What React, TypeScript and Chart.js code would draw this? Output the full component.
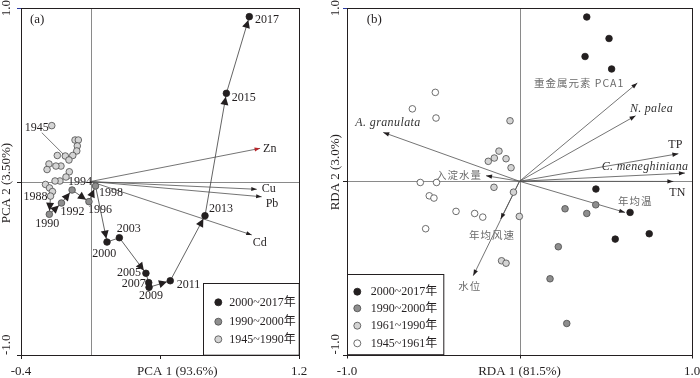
import React, { useEffect, useRef } from 'react';
import { Chart, registerables } from 'chart.js';

Chart.register(...registerables);

const SERIF = '"Liberation Serif", "Times New Roman", "Noto Sans CJK SC", serif';
const CJK = '"Noto Sans CJK SC", "Noto Sans", sans-serif';
const INK = '#231f20';
const DARK = '#231f20';
const MID = '#8e8e8e';
const LIGHT = '#d4d4d4';
const WHITE = '#ffffff';
const EDGE = '#4a4a4a';
const LINE = '#505050';

// ---------------- Panel (a): PCA of heavy metals ----------------
const pcaXTicks = [-0.4, 0.4, 1.2];
const pcaXTickLabels = ['-0.4', '', '1.2'];
const pcaYTicks = [1, 0, -1];
const pcaYTickLabels = ['1.0', '', '-1.0'];

// 1945~1990 (first = 1945, last = 1988)
const pcaLightX = [-0.223, -0.089, -0.070, -0.076, -0.079, -0.102, -0.145, -0.191, -0.124, -0.170, -0.199, -0.239, -0.250, -0.122, -0.141, -0.176, -0.204, -0.259, -0.236, -0.219, -0.230];
const pcaLightY = [0.322, 0.239, 0.239, 0.205, 0.176, 0.150, 0.147, 0.150, 0.124, 0.089, 0.089, 0.101, 0.069, 0.056, 0.026, 0.003, 0.003, -0.017, -0.037, -0.058, -0.084];
const pcaLightFirstYear = '1945';
const pcaLightLastYear = '1988';

// 1990~2000
const pcaMidYears = ['1990', '1992', '1994', '1996', '1998'];
const pcaMidX = [-0.237, -0.167, -0.106, -0.009, 0.029];
const pcaMidY = [-0.189, -0.124, -0.049, -0.116, -0.026];

// 2000~2017
const pcaDarkYears = ['2000', '2003', '2005', '2007', '2009', '2011', '2013', '2015', '2017'];
const pcaDarkX = [0.095, 0.166, 0.319, 0.335, 0.337, 0.459, 0.659, 0.782, 0.914];
const pcaDarkY = [-0.349, -0.324, -0.529, -0.583, -0.610, -0.572, -0.197, 0.508, 0.950];

const pcaVarNames = ['Zn', 'Cu', 'Pb', 'Cd'];
const pcaVarX = [0.976, 0.957, 0.985, 0.928];
const pcaVarY = [0.191, -0.045, -0.088, -0.308];

const pcaLegend = ['2000~2017年', '1990~2000年', '1945~1990年'];

// ---------------- Panel (b): RDA ----------------
const rdaXTicks = [-1, 0, 1];
const rdaXTickLabels = ['-1.0', '', '1.0'];
const rdaYTicks = [1, 0, -1];
const rdaYTickLabels = ['1.0', '', '-1.0'];

const rdaDarkX = [0.390, 0.519, 0.380, 0.534, 0.443, 0.641, 0.752, 0.555];
const rdaDarkY = [0.948, 0.824, 0.720, 0.648, -0.045, -0.180, -0.303, -0.334];
const rdaMidX = [0.442, 0.264, 0.390, 0.225, 0.177, 0.274];
const rdaMidY = [-0.136, -0.159, -0.186, -0.378, -0.563, -0.821];
const rdaLightX = [-0.055, -0.119, -0.146, -0.181, -0.078, -0.049, -0.148, -0.035, -0.001, -0.104, -0.078];
const rdaLightY = [0.349, 0.174, 0.134, 0.115, 0.130, 0.078, -0.035, -0.063, -0.203, -0.459, -0.473];
const rdaWhiteX = [-0.488, -0.621, -0.484, -0.575, -0.481, -0.523, -0.496, -0.368, -0.260, -0.213, -0.544];
const rdaWhiteY = [0.513, 0.418, 0.365, -0.007, -0.007, -0.084, -0.097, -0.174, -0.186, -0.207, -0.274];

const rdaVarNames = ['A. granulata', '入淀水量', '重金属元素 PCA1', 'N. palea', 'TP', 'C. meneghiniana', 'TN', '年均温', '年均风速', '水位'];
const rdaVarX = [-0.790, -0.194, 0.683, 0.673, 0.921, 0.959, 0.892, 0.612, -0.109, -0.268];
const rdaVarY = [0.282, 0.032, 0.567, 0.378, 0.159, 0.047, -0.001, -0.180, -0.218, -0.545];

const rdaLegend = ['2000~2017年', '1990~2000年', '1961~1990年', '1945~1961年'];

// ---------------- label placement (style) ----------------
const yearPlace: Record<string, [number, number, CanvasTextAlign]> = {
  '1945': [-3, 2, 'right'],
  '1988': [-3, 1, 'right'],
  '1990': [-2, 9.5, 'center'],
  '1992': [-1, 9, 'left'],
  '1994': [-4, -8.5, 'left'],
  '1996': [-1, 8.5, 'left'],
  '1998': [3.5, 6.5, 'left'],
  '2000': [-2.7, 11.3, 'center'],
  '2003': [-2.6, -8.4, 'left'],
  '2005': [-5, 0, 'right'],
  '2007': [-3, 1.6, 'right'],
  '2009': [2, 9, 'center'],
  '2011': [6.4, 4.3, 'left'],
  '2013': [4, -6.4, 'left'],
  '2015': [5.4, 4.4, 'left'],
  '2017': [5.7, 3.3, 'left'],
};
const pcaVarPlace: [number, number, CanvasTextAlign][] = [[3, 0, 'left'], [5, 0, 'left'], [4, 7, 'left'], [1, 8.3, 'left']];
const pcaHeadColors = ['#b8252a', INK, INK, INK];

type VarStyle = [number, number, CanvasTextAlign, string, string, number];
const ITAL = 'italic 12px ' + SERIF;
const ROM = '12px ' + SERIF;
const CJKF = '10.5px ' + CJK;
const rdaVarPlace: VarStyle[] = [
  [-28, -9.4, 'left', ITAL, '#333', 0.4],
  [-4, -1, 'right', CJKF, '#6a6a6a', 1],
  [-13, 0, 'right', CJKF, '#6a6a6a', 1],
  [-5.7, -7.3, 'left', ITAL, '#333', 0.3],
  [-10, -9, 'left', ROM, INK, 0],
  [3.3, -6.6, 'right', ITAL, '#333', 0.3],
  [-4, 11, 'left', ROM, INK, 0],
  [-7, -11, 'left', CJKF, '#6a6a6a', 1],
  [-31.7, 15.7, 'left', CJKF, '#6a6a6a', 1],
  [-15, 10.7, 'left', CJKF, '#6a6a6a', 1],
];

// ---------------- helpers ----------------
const pts = (xs: number[], ys: number[]) => xs.map((x, i) => ({ x, y: ys[i] }));

function pointSet(label: string, xs: number[], ys: number[], fill: string, stroke: string) {
  return {
    label,
    data: pts(xs, ys),
    showLine: false,
    pointRadius: 3.3,
    pointBackgroundColor: fill,
    pointBorderColor: stroke,
    pointBorderWidth: 0.8,
  };
}
function lineSet(label: string, data: { x: number; y: number }[], color: string) {
  return {
    label,
    data,
    showLine: true,
    borderColor: color,
    borderWidth: 0.8,
    pointRadius: 0,
    fill: false,
    tension: 0,
  };
}

function drawText(ctx: CanvasRenderingContext2D, s: string, x: number, y: number, font: string, color: string, align: CanvasTextAlign = 'left', rot = 0, spacing = 0) {
  ctx.save();
  ctx.font = font;
  ctx.fillStyle = color;
  ctx.textAlign = align;
  ctx.textBaseline = 'middle';
  try { (ctx as any).letterSpacing = spacing + 'px'; } catch (e) { /* ignore */ }
  ctx.translate(x, y);
  if (rot) ctx.rotate(rot);
  ctx.fillText(s, 0, 0);
  ctx.restore();
}

function arrowHead(ctx: CanvasRenderingContext2D, fx: number, fy: number, tx: number, ty: number, len: number, half: number, back: number, color: string) {
  const dx = tx - fx, dy = ty - fy;
  const d = Math.hypot(dx, dy);
  if (d < 1e-6) return;
  const ux = dx / d, uy = dy / d;
  const tipX = tx - ux * back, tipY = ty - uy * back;
  const bx = tipX - ux * len, by = tipY - uy * len;
  ctx.beginPath();
  ctx.moveTo(tipX, tipY);
  ctx.lineTo(bx - uy * half, by + ux * half);
  ctx.lineTo(bx + uy * half, by - ux * half);
  ctx.closePath();
  ctx.fillStyle = color;
  ctx.fill();
}

interface PanelSpec {
  xTicks: number[]; xTickLabels: string[]; yTicks: number[]; yTickLabels: string[];
  xTitle: string; xTitleAt: number; yTitle: string; yTitleAt: number;
  yLabelX: number;
  tag: string; tagDx: number;
  legendItems: [string, string][];
  legendBox: [number, number, number, number]; // offsets: left, top, width, height relative to chartArea (left or right anchored)
  legendAnchorRight: boolean;
  legendRows: number[]; legendCircleDx: number; legendTextDx: number;
  extraAfter?: (chart: any) => void;
}

function panelPlugin(p: PanelSpec) {
  return {
    id: 'panelDecor',
    beforeDatasetsDraw(chart: any) {
      const { ctx, chartArea: a, scales } = chart;
      const x0 = Math.round(scales.x.getPixelForValue(0)) + 0.5;
      const y0 = Math.round(scales.y.getPixelForValue(0)) + 0.5;
      ctx.save();
      ctx.strokeStyle = '#8a8a8a';
      ctx.lineWidth = 1;
      ctx.beginPath();
      ctx.moveTo(a.left, y0); ctx.lineTo(a.right, y0);
      ctx.moveTo(x0, a.top); ctx.lineTo(x0, a.bottom);
      ctx.stroke();
      ctx.restore();
    },
    afterDatasetsDraw(chart: any) {
      if (p.extraAfter) p.extraAfter(chart);
    },
    afterDraw(chart: any) {
      const { ctx, chartArea: a, scales } = chart;
      ctx.save();
      // legend box
      const [lx, ly, lw, lh] = p.legendBox;
      const bl = p.legendAnchorRight ? a.right - lw : a.left + lx;
      const bt = a.bottom - lh + ly;
      ctx.fillStyle = '#fff';
      ctx.fillRect(bl, bt, lw, a.bottom - bt);
      ctx.strokeStyle = INK;
      ctx.lineWidth = 1;
      ctx.strokeRect(Math.round(bl) + 0.5, Math.round(bt) + 0.5, lw, a.bottom - bt);
      p.legendItems.forEach(([label, fill], i) => {
        const cy = bt + p.legendRows[i];
        ctx.beginPath();
        ctx.arc(bl + p.legendCircleDx, cy, 3.5, 0, Math.PI * 2);
        ctx.fillStyle = fill;
        ctx.fill();
        ctx.lineWidth = 0.8;
        ctx.strokeStyle = fill === DARK ? DARK : EDGE;
        ctx.stroke();
        drawText(ctx, label, bl + p.legendTextDx, cy + 0.5, '12px ' + SERIF, INK, 'left');
      });
      // frame
      ctx.strokeStyle = INK;
      ctx.lineWidth = 1;
      ctx.strokeRect(Math.round(a.left) + 0.5, Math.round(a.top) + 0.5, Math.round(a.right - a.left), Math.round(a.bottom - a.top));
      // ticks
      ctx.beginPath();
      p.xTicks.forEach((v) => {
        const px = Math.round(scales.x.getPixelForValue(v)) + 0.5;
        ctx.moveTo(px, a.bottom); ctx.lineTo(px, a.bottom + 4);
      });
      p.yTicks.forEach((v, i) => {
        if (i === 0) return;
        const py = Math.round(scales.y.getPixelForValue(v)) + 0.5;
        ctx.moveTo(a.left - 4, py); ctx.lineTo(a.left, py);
      });
      ctx.stroke();
      ctx.beginPath();
      ctx.strokeStyle = '#2b3aa0';
      const pyTop = Math.round(scales.y.getPixelForValue(p.yTicks[0])) + 0.5;
      ctx.moveTo(a.left - 4, pyTop); ctx.lineTo(a.left, pyTop);
      ctx.stroke();
      // tick labels
      const labY = a.bottom + 17;
      p.xTicks.forEach((v, i) => {
        if (!p.xTickLabels[i]) return;
        drawText(ctx, p.xTickLabels[i], scales.x.getPixelForValue(v), labY, '13px ' + SERIF, INK, 'center');
      });
      p.yTicks.forEach((v, i) => {
        const s = p.yTickLabels[i];
        if (!s) return;
        const py = scales.y.getPixelForValue(v);
        const isBottom = v === Math.min(...p.yTicks);
        drawText(ctx, s, p.yLabelX, py, '13px ' + SERIF, INK, isBottom ? 'left' : 'center', -Math.PI / 2);
      });
      drawText(ctx, p.xTitle, scales.x.getPixelForValue(p.xTitleAt), labY, '13px ' + SERIF, INK, 'center');
      drawText(ctx, p.yTitle, p.yLabelX, scales.y.getPixelForValue(p.yTitleAt), '13px ' + SERIF, INK, 'center', -Math.PI / 2);
      drawText(ctx, p.tag, a.left + p.tagDx, a.top + 12, '13px ' + SERIF, INK, 'left');
      ctx.restore();
    },
  };
}

function baseOptions(padding: { left: number; right: number; top: number; bottom: number }, xmin: number, xmax: number) {
  return {
    responsive: false,
    animation: false as const,
    events: [] as any[],
    layout: { padding },
    plugins: { legend: { display: false }, tooltip: { enabled: false }, title: { display: false } },
    scales: {
      x: { type: 'linear' as const, min: xmin, max: xmax, display: false },
      y: { type: 'linear' as const, min: -1, max: 1, display: false },
    },
  };
}

export default function App() {
  const refA = useRef<HTMLCanvasElement | null>(null);
  const refB = useRef<HTMLCanvasElement | null>(null);

  useEffect(() => {
    if (!refA.current || !refB.current) return;

    // ---------- chart (a) ----------
    const trajYears = [pcaLightLastYear, ...pcaMidYears, ...pcaDarkYears];
    const trajData = [
      { x: pcaLightX[pcaLightX.length - 1], y: pcaLightY[pcaLightY.length - 1] },
      ...pts(pcaMidX, pcaMidY),
      ...pts(pcaDarkX, pcaDarkY),
    ];
    const labelled = [
      { year: pcaLightFirstYear, x: pcaLightX[0], y: pcaLightY[0] },
      ...trajYears.map((yr, i) => ({ year: yr, x: trajData[i].x, y: trajData[i].y })),
    ];
    const dsA: any[] = [
      pointSet('2000~2017年', pcaDarkX, pcaDarkY, DARK, DARK),
      pointSet('1990~2000年', pcaMidX, pcaMidY, MID, EDGE),
      pointSet('1945~1990年', pcaLightX, pcaLightY, LIGHT, EDGE),
      lineSet('trajectory', trajData, '#3c3c3c'),
      ...pcaVarNames.map((n, i) => lineSet(n, [{ x: 0, y: 0 }, { x: pcaVarX[i], y: pcaVarY[i] }], LINE)),
    ];

    const specA: PanelSpec = {
      xTicks: pcaXTicks, xTickLabels: pcaXTickLabels, yTicks: pcaYTicks, yTickLabels: pcaYTickLabels,
      xTitle: 'PCA 1 (93.6%)', xTitleAt: 0.5, yTitle: 'PCA 2 (3.50%)', yTitleAt: -0.009,
      yLabelX: 7, tag: '(a)', tagDx: 9,
      legendItems: [[pcaLegend[0], DARK], [pcaLegend[1], MID], [pcaLegend[2], LIGHT]],
      legendBox: [0, 0, 95.7, 71.7], legendAnchorRight: true,
      legendRows: [19, 38.4, 56], legendCircleDx: 15, legendTextDx: 26,
      extraAfter: (chart: any) => {
        const { ctx, scales } = chart;
        const X = (v: number) => scales.x.getPixelForValue(v);
        const Y = (v: number) => scales.y.getPixelForValue(v);
        // trajectory arrowheads
        for (let i = 1; i < trajData.length; i++) {
          const fx = X(trajData[i - 1].x), fy = Y(trajData[i - 1].y);
          const tx = X(trajData[i].x), ty = Y(trajData[i].y);
          if (Math.hypot(tx - fx, ty - fy) > 14) arrowHead(ctx, fx, fy, tx, ty, 8, 4, 3.5, DARK);
        }
        // variable arrowheads + labels
        const ox = X(0), oy = Y(0);
        pcaVarNames.forEach((n, i) => {
          const tx = X(pcaVarX[i]), ty = Y(pcaVarY[i]);
          arrowHead(ctx, ox, oy, tx, ty, 5.5, 2, 0, pcaHeadColors[i]);
          const [dx, dy, al] = pcaVarPlace[i];
          drawText(ctx, n, tx + dx, ty + dy, '12px ' + SERIF, INK, al);
        });
        // 1945 leader line
        const p45x = X(pcaLightX[0]), p45y = Y(pcaLightY[0]);
        ctx.save();
        ctx.strokeStyle = '#444';
        ctx.lineWidth = 0.7;
        ctx.beginPath();
        ctx.moveTo(p45x - 10, p45y + 7);
        ctx.lineTo(X(-0.157), Y(0.158));
        ctx.stroke();
        ctx.restore();
        // year labels
        labelled.forEach((l) => {
          const pl = yearPlace[l.year];
          if (!pl) return;
          drawText(ctx, l.year, X(l.x) + pl[0], Y(l.y) + pl[1], '12px ' + SERIF, INK, pl[2]);
        });
      },
    };

    const chartA = new Chart(refA.current, {
      type: 'scatter',
      data: { datasets: dsA },
      options: baseOptions({ left: 21, right: 31, top: 8, bottom: 23 }, -0.4, 1.2) as any,
      plugins: [panelPlugin(specA) as any],
    });

    // ---------- chart (b) ----------
    const dsB: any[] = [
      pointSet('2000~2017年', rdaDarkX, rdaDarkY, DARK, DARK),
      pointSet('1990~2000年', rdaMidX, rdaMidY, MID, EDGE),
      pointSet('1961~1990年', rdaLightX, rdaLightY, LIGHT, EDGE),
      pointSet('1945~1961年', rdaWhiteX, rdaWhiteY, WHITE, EDGE),
      ...rdaVarNames.map((n, i) => lineSet(n, [{ x: 0, y: 0 }, { x: rdaVarX[i], y: rdaVarY[i] }], LINE)),
    ];
    const specB: PanelSpec = {
      xTicks: rdaXTicks, xTickLabels: rdaXTickLabels, yTicks: rdaYTicks, yTickLabels: rdaYTickLabels,
      xTitle: 'RDA 1 (81.5%)', xTitleAt: 0, yTitle: 'RDA 2 (3.0%)', yTitleAt: 0.052,
      yLabelX: 6, tag: '(b)', tagDx: 19.7,
      legendItems: [[rdaLegend[0], DARK], [rdaLegend[1], MID], [rdaLegend[2], LIGHT], [rdaLegend[3], WHITE]],
      legendBox: [0, 0, 96.3, 80.2], legendAnchorRight: false,
      legendRows: [17.4, 34, 51.4, 69], legendCircleDx: 10.3, legendTextDx: 23.7,
      extraAfter: (chart: any) => {
        const { ctx, scales } = chart;
        const X = (v: number) => scales.x.getPixelForValue(v);
        const Y = (v: number) => scales.y.getPixelForValue(v);
        const ox = X(0), oy = Y(0);
        rdaVarNames.forEach((n, i) => {
          const tx = X(rdaVarX[i]), ty = Y(rdaVarY[i]);
          arrowHead(ctx, ox, oy, tx, ty, 6, 2.2, 0, INK);
          const [dx, dy, al, font, color, sp] = rdaVarPlace[i];
          drawText(ctx, n, tx + dx, ty + dy, font, color, al, 0, sp);
        });
      },
    };
    const chartB = new Chart(refB.current, {
      type: 'scatter',
      data: { datasets: dsB },
      options: baseOptions({ left: 17, right: 8, top: 8, bottom: 23.5 }, -1, 1) as any,
      plugins: [panelPlugin(specB) as any],
    });

    return () => {
      chartA.destroy();
      chartB.destroy();
    };
  }, []);

  return (
    <div style={{ position: 'absolute', left: 0, top: 0, width: 700, height: 378, background: '#fff', overflow: 'hidden' }}>
      <canvas ref={refA} width={330} height={378} style={{ position: 'absolute', left: 0, top: 0, width: 330, height: 378 }} />
      <canvas ref={refB} width={370} height={378} style={{ position: 'absolute', left: 330, top: 0, width: 370, height: 378 }} />
    </div>
  );
}
